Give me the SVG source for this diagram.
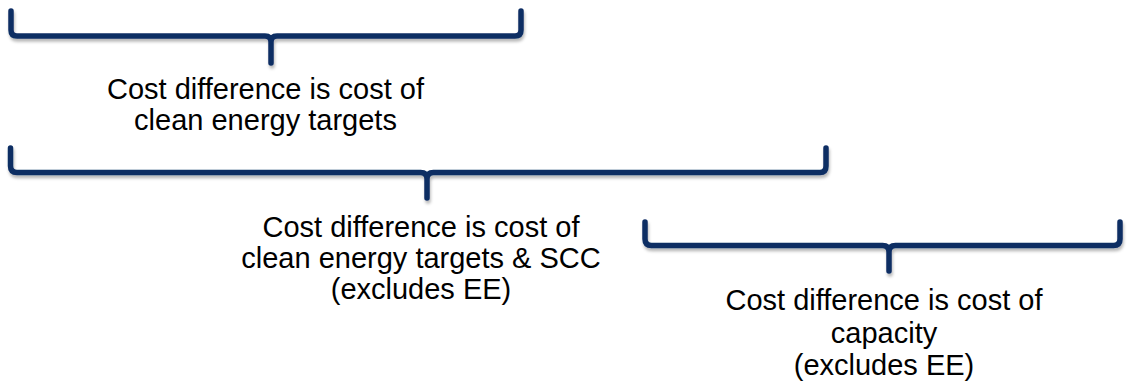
<svg xmlns="http://www.w3.org/2000/svg" width="1127" height="382" viewBox="0 0 1127 382">
  <style>
    .brace { fill: none; stroke: #0b2d63; stroke-width: 5.5; stroke-linecap: round; stroke-linejoin: round; filter: url(#soft); }
    .label { font-family: "Liberation Sans", Arial, sans-serif; font-size: 29px; fill: #000; text-anchor: middle; }
  </style>
  <defs>
    <filter id="soft" x="-5%" y="-30%" width="110%" height="180%">
      <feDropShadow dx="1" dy="3" stdDeviation="1.6" flood-color="#000" flood-opacity="0.28"/>
    </filter>
  </defs>
  <rect width="1127" height="382" fill="#fff"/>

  <!-- curly braces grouping the scenarios -->
  <g id="connectors">
    <path class="brace" d="M11,11 V30 Q11,36 17,36 H265 Q271,36 271,42 V63 M271,42 Q271,36 277,36 H515 Q521,36 521,30 V11"/>
    <path class="brace" d="M10.5,148 V166 Q10.5,172.5 17,172.5 H420.5 Q427,172.5 427,179 V198 M427,179 Q427,172.5 433.5,172.5 H820 Q826,172.5 826,166 V148"/>
    <path class="brace" d="M645,222 V239 Q645,245.5 651.5,245.5 H882.5 Q889,245.5 889,252 V271 M889,252 Q889,245.5 895.5,245.5 H1113.5 Q1120,245.5 1120,239 V222"/>
  </g>

  <g id="clean-energy">
    <text class="label" x="265.5" y="99">Cost difference is cost of</text>
    <text class="label" x="265.5" y="130">clean energy targets</text>
  </g>

  <g id="clean-energy-scc">
    <text class="label" x="421" y="237">Cost difference is cost of</text>
    <text class="label" x="421" y="268">clean energy targets &amp; SCC</text>
    <text class="label" x="421" y="299">(excludes EE)</text>
  </g>

  <g id="capacity">
    <text class="label" x="884" y="310">Cost difference is cost of</text>
    <text class="label" x="884" y="343">capacity</text>
    <text class="label" x="884" y="375">(excludes EE)</text>
  </g>
</svg>
